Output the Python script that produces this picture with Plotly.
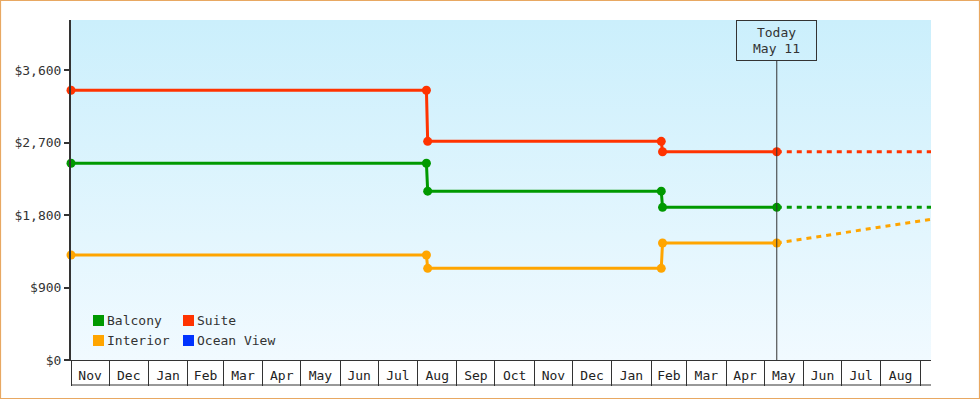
import base64
import plotly.graph_objects as go

# ---------------- data ----------------
dates = ["2021-11-01", "2022-08-08", "2022-08-09", "2023-02-09", "2023-02-10", "2023-05-11"]
suite = [3349, 3349, 2715, 2715, 2586, 2586]
balcony = [2442, 2442, 2096, 2096, 1895, 1895]
interior = [1303, 1303, 1138, 1138, 1452, 1452]

today = "2023-05-11"
today_label = "May 11"
proj_dates = ["2023-05-11", "2023-09-09 12:00"]
suite_proj = [2586, 2586]
balcony_proj = [1895, 1895]
interior_proj = [1452, 1747]

legend_names = ["Balcony", "Suite", "Interior", "Ocean View"]
legend_colors = ["#009900", "#FF3300", "#FFA500", "#0033FF"]

x_range = ["2021-11-01", "2023-09-09 12:00"]
y_range = [0, 4221]
y_ticks = [0, 900, 1800, 2700, 3600]

# ---------------- layout helpers ----------------
W, H = 980, 400
L, R, T, B = 71, 931, 20, 360
PW, PH = R - L, B - T


def px(x):
    return (x - L) / PW


def py(y):
    return (B - y) / PH


FONT = "DejaVu Sans Mono, Liberation Mono, monospace"
DARK = "#333333"
C_SUITE, C_BAL, C_INT = "#FF3300", "#009900", "#FFA500"

fig = go.Figure()

series = [("Suite", suite, suite_proj, C_SUITE),
          ("Balcony", balcony, balcony_proj, C_BAL),
          ("Interior", interior, interior_proj, C_INT)]

for name, vals, proj, col in series:
    fig.add_trace(go.Scatter(
        x=proj_dates, y=proj, mode="lines", name=name + " (projected)",
        line=dict(color=col, width=3, dash="5px,5px"),
        showlegend=False, hoverinfo="skip", cliponaxis=False))
for name, vals, proj, col in series:
    fig.add_trace(go.Scatter(
        x=dates, y=vals, mode="lines+markers", name=name,
        line=dict(color=col, width=3),
        marker=dict(color=col, size=9, symbol="circle"),
        showlegend=False, cliponaxis=False))

# gradient background
svg = ('<svg xmlns="http://www.w3.org/2000/svg" width="10" height="100" preserveAspectRatio="none">'
       '<defs><linearGradient id="g" x1="0" y1="0" x2="0" y2="1">'
       '<stop offset="0" stop-color="#CBEFFC"/><stop offset="1" stop-color="#F1FAFF"/>'
       '</linearGradient></defs><rect width="10" height="100" fill="url(#g)"/></svg>')
src = "data:image/svg+xml;base64," + base64.b64encode(svg.encode()).decode()

shapes = []
annotations = []

# today line
shapes.append(dict(type="line", xref="x", yref="y domain", x0=today, x1=today,
                   y0=0, y1=py(61), line=dict(color=DARK, width=1)))
annotations.append(dict(xref="x", yref="paper", x=today, y=1, xanchor="center", yanchor="top",
                        text="Today<br>" + today_label, showarrow=False,
                        font=dict(family=FONT, size=13, color=DARK),
                        bordercolor=DARK, borderwidth=1, borderpad=0,
                        width=79, height=39, align="center"))

# bottom line of month cells
shapes.append(dict(type="line", xref="paper", yref="paper", x0=px(71), x1=px(931),
                   y0=py(385), y1=py(385), line=dict(color=DARK, width=1)))

# outer border
shapes.append(dict(type="rect", xref="paper", yref="paper",
                   x0=px(0.5), x1=px(979.5), y0=py(398.5), y1=py(0.5),
                   line=dict(color="#E8A862", width=1.2), fillcolor="rgba(0,0,0,0)"))

# manual legend
legend_pos = [(93, 315), (183, 315), (93, 335), (183, 335)]
for name, col, (lx, ly) in zip(legend_names, legend_colors, legend_pos):
    shapes.append(dict(type="rect", xref="paper", yref="paper",
                       x0=px(lx), x1=px(lx + 11), y0=py(ly + 11), y1=py(ly),
                       line=dict(width=0), fillcolor=col))
    annotations.append(dict(xref="paper", yref="paper", x=px(lx + 12), y=py(ly + 5.5),
                            xanchor="left", yanchor="middle", text=name, showarrow=False,
                            font=dict(family=FONT, size=13, color=DARK)))

fig.update_layout(
    width=W, height=H,
    margin=dict(l=L, r=W - R, t=T, b=H - B, pad=0),
    paper_bgcolor="white",
    plot_bgcolor="#E0F5FD",
    showlegend=False,
    shapes=shapes,
    annotations=annotations,
    images=[dict(source=src, xref="x domain", yref="y domain", x=0, y=1,
                 sizex=1, sizey=1, xanchor="left", yanchor="top",
                 sizing="stretch", layer="below")],
    font=dict(family=FONT, size=13, color=DARK),
)

fig.update_xaxes(
    type="date", range=x_range, dtick="M1", tick0="2021-11-01",
    ticklabelmode="period", tickformat="%b",
    ticks="outside", ticklen=25, tickwidth=1, tickcolor=DARK,
    ticklabelstandoff=-22,
    showgrid=False, zeroline=False,
    showline=True, linecolor=DARK, linewidth=1,
    tickfont=dict(family=FONT, size=13, color="#222222"),
)
fig.update_yaxes(
    range=y_range, tickvals=y_ticks, tickformat="$,",
    ticks="outside", ticklen=5, tickwidth=2, tickcolor=DARK,
    showgrid=False, zeroline=False,
    showline=True, linecolor=DARK, linewidth=2,
    tickfont=dict(family=FONT, size=13, color=DARK),
)

fig.write_html("out.html", config={"displayModeBar": False},
               post_script="document.body.style.margin='0';document.body.style.padding='0';"
                           "document.body.style.overflow='hidden';")
